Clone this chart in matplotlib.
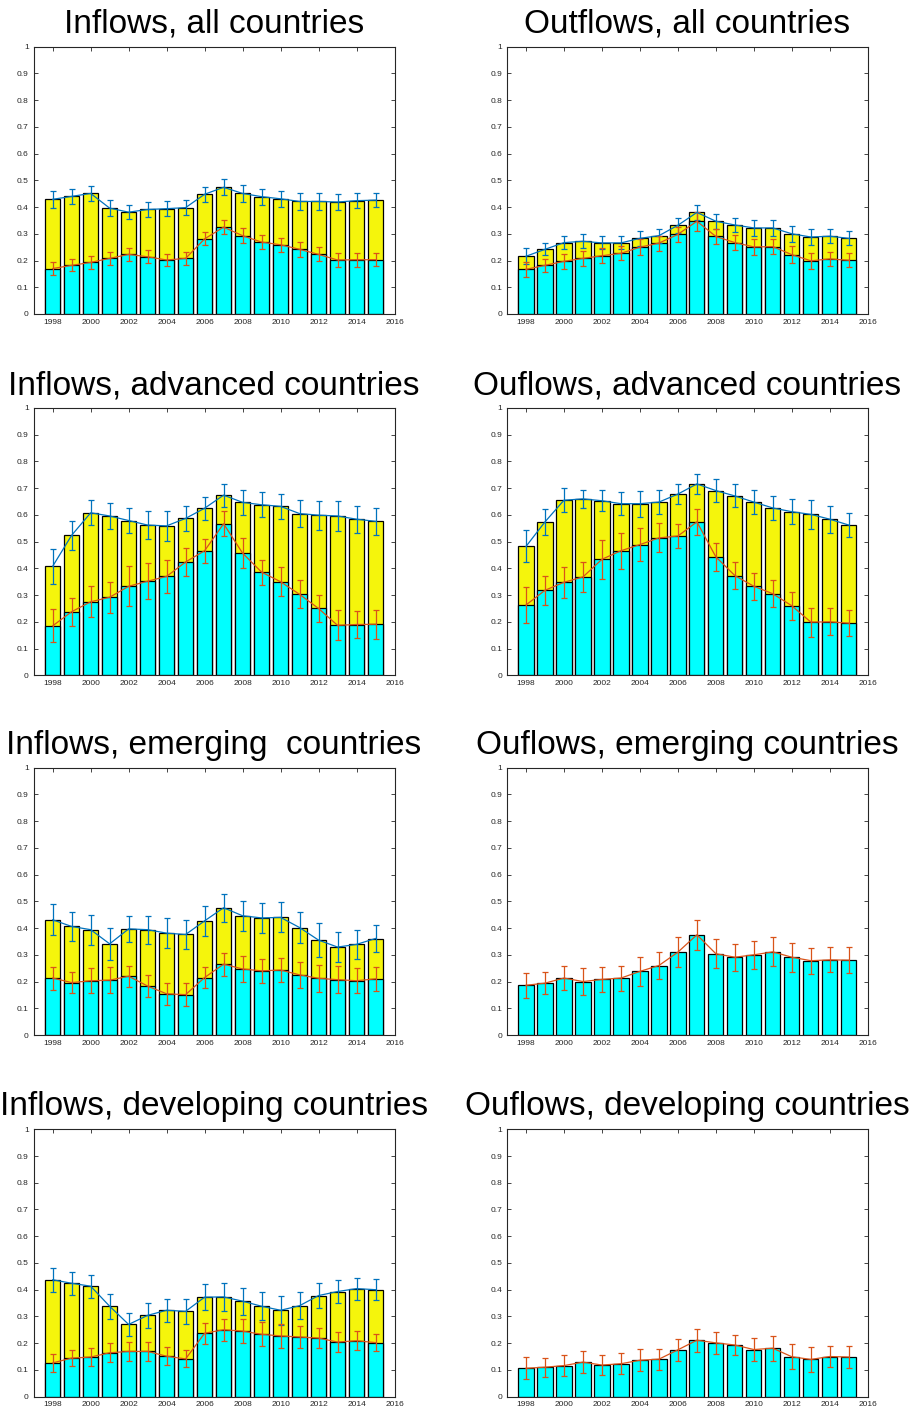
import matplotlib
matplotlib.use("Agg")
import matplotlib.pyplot as plt
import numpy as np

plt.rcParams['font.family'] = ['Liberation Sans', 'DejaVu Sans']

years = list(range(1998, 2016))

titles = [
    "Inflows, all countries", "Outflows, all countries",
    "Inflows, advanced countries", "Ouflows, advanced countries",
    "Inflows, emerging  countries", "Ouflows, emerging countries",
    "Inflows, developing countries", "Ouflows, developing countries",
]

# --- Inflows, all countries ---
in_all_total = [0.429, 0.440, 0.451, 0.396, 0.381, 0.391, 0.394, 0.398, 0.448,
                0.474, 0.451, 0.439, 0.431, 0.421, 0.421, 0.419, 0.424, 0.426]
in_all_total_err = [0.031, 0.029, 0.028, 0.029, 0.025, 0.029, 0.029, 0.029, 0.028,
                    0.030, 0.031, 0.030, 0.029, 0.031, 0.031, 0.030, 0.029, 0.027]
in_all_part = [0.170, 0.182, 0.193, 0.208, 0.223, 0.214, 0.202, 0.208, 0.281,
               0.325, 0.293, 0.269, 0.259, 0.242, 0.223, 0.202, 0.203, 0.203]
in_all_part_err = [0.024, 0.022, 0.024, 0.025, 0.024, 0.025, 0.024, 0.023, 0.024,
                   0.027, 0.027, 0.027, 0.027, 0.028, 0.026, 0.026, 0.026, 0.024]

# --- Outflows, all countries ---
out_all_total = [0.216, 0.242, 0.267, 0.272, 0.266, 0.266, 0.283, 0.293, 0.332,
                 0.380, 0.347, 0.333, 0.322, 0.322, 0.300, 0.288, 0.291, 0.283]
out_all_total_err = [0.030, 0.023, 0.024, 0.026, 0.024, 0.024, 0.028, 0.026, 0.028,
                     0.027, 0.028, 0.028, 0.029, 0.029, 0.029, 0.029, 0.026, 0.026]
out_all_part = [0.167, 0.182, 0.197, 0.208, 0.218, 0.227, 0.250, 0.265, 0.298,
                0.347, 0.290, 0.267, 0.251, 0.252, 0.222, 0.199, 0.206, 0.201]
out_all_part_err = [0.028, 0.024, 0.028, 0.027, 0.029, 0.026, 0.029, 0.028, 0.028,
                    0.035, 0.029, 0.027, 0.029, 0.029, 0.031, 0.030, 0.027, 0.026]

# --- Inflows, advanced countries ---
in_adv_total = [0.408, 0.524, 0.608, 0.596, 0.579, 0.562, 0.559, 0.587, 0.625,
                0.674, 0.647, 0.638, 0.632, 0.605, 0.599, 0.596, 0.584, 0.576]
in_adv_total_err = [0.065, 0.055, 0.046, 0.047, 0.048, 0.051, 0.056, 0.048, 0.043,
                    0.043, 0.047, 0.046, 0.047, 0.050, 0.054, 0.055, 0.051, 0.050]
in_adv_part = [0.185, 0.238, 0.275, 0.292, 0.333, 0.352, 0.370, 0.424, 0.466,
               0.567, 0.457, 0.386, 0.350, 0.303, 0.250, 0.187, 0.190, 0.191]
in_adv_part_err = [0.062, 0.052, 0.058, 0.058, 0.075, 0.067, 0.061, 0.051, 0.045,
                   0.047, 0.057, 0.047, 0.054, 0.052, 0.050, 0.056, 0.051, 0.054]

# --- Outflows, advanced countries ---
out_adv_total = [0.482, 0.574, 0.655, 0.660, 0.653, 0.642, 0.642, 0.648, 0.678,
                 0.716, 0.691, 0.671, 0.648, 0.626, 0.612, 0.602, 0.584, 0.562]
out_adv_total_err = [0.060, 0.048, 0.044, 0.034, 0.039, 0.044, 0.048, 0.045, 0.036,
                     0.036, 0.044, 0.043, 0.045, 0.046, 0.046, 0.053, 0.050, 0.046]
out_adv_part = [0.263, 0.318, 0.348, 0.368, 0.434, 0.466, 0.489, 0.514, 0.521,
                0.574, 0.443, 0.373, 0.333, 0.305, 0.260, 0.199, 0.200, 0.195]
out_adv_part_err = [0.066, 0.054, 0.059, 0.056, 0.074, 0.067, 0.061, 0.054, 0.046,
                    0.049, 0.051, 0.050, 0.051, 0.050, 0.052, 0.054, 0.050, 0.049]

# --- Inflows, emerging countries ---
in_em_total = [0.431, 0.406, 0.394, 0.341, 0.397, 0.394, 0.381, 0.376, 0.427,
               0.476, 0.446, 0.438, 0.440, 0.402, 0.355, 0.329, 0.339, 0.361]
in_em_total_err = [0.058, 0.054, 0.056, 0.059, 0.049, 0.052, 0.055, 0.055, 0.055,
                   0.052, 0.056, 0.055, 0.056, 0.058, 0.064, 0.057, 0.054, 0.051]
in_em_part = [0.213, 0.196, 0.203, 0.205, 0.220, 0.183, 0.154, 0.151, 0.215,
              0.265, 0.247, 0.240, 0.243, 0.225, 0.212, 0.207, 0.203, 0.210]
in_em_part_err = [0.043, 0.040, 0.046, 0.049, 0.040, 0.042, 0.040, 0.042, 0.041,
                  0.043, 0.047, 0.045, 0.046, 0.049, 0.050, 0.050, 0.046, 0.046]

# --- Outflows, emerging countries (single component) ---
out_em_part = [0.186, 0.194, 0.213, 0.200, 0.208, 0.213, 0.238, 0.260, 0.310,
               0.375, 0.304, 0.291, 0.300, 0.311, 0.291, 0.278, 0.281, 0.280]
out_em_part_err = [0.046, 0.040, 0.046, 0.050, 0.046, 0.047, 0.053, 0.052, 0.057,
                   0.057, 0.055, 0.051, 0.052, 0.054, 0.054, 0.049, 0.047, 0.048]

# --- Inflows, developing countries ---
in_dev_total = [0.437, 0.424, 0.413, 0.338, 0.270, 0.304, 0.323, 0.319, 0.372,
                0.373, 0.357, 0.338, 0.323, 0.340, 0.378, 0.393, 0.404, 0.400]
in_dev_total_err = [0.045, 0.043, 0.043, 0.046, 0.043, 0.047, 0.044, 0.046, 0.048,
                    0.052, 0.051, 0.052, 0.055, 0.051, 0.046, 0.044, 0.041, 0.039]
in_dev_part = [0.126, 0.144, 0.148, 0.164, 0.169, 0.169, 0.151, 0.141, 0.237,
               0.250, 0.245, 0.233, 0.227, 0.223, 0.219, 0.204, 0.209, 0.202]
in_dev_part_err = [0.033, 0.029, 0.033, 0.036, 0.037, 0.037, 0.034, 0.032, 0.039,
                   0.041, 0.044, 0.045, 0.046, 0.041, 0.037, 0.038, 0.035, 0.031]

# --- Outflows, developing countries (single component) ---
out_dev_part = [0.106, 0.110, 0.116, 0.129, 0.118, 0.123, 0.136, 0.140, 0.175,
                0.211, 0.201, 0.193, 0.176, 0.181, 0.149, 0.139, 0.150, 0.148]
out_dev_part_err = [0.041, 0.036, 0.040, 0.040, 0.039, 0.040, 0.041, 0.039, 0.040,
                    0.043, 0.042, 0.036, 0.043, 0.046, 0.047, 0.047, 0.041, 0.041]

panels = [
    (in_all_total, in_all_total_err, in_all_part, in_all_part_err),
    (out_all_total, out_all_total_err, out_all_part, out_all_part_err),
    (in_adv_total, in_adv_total_err, in_adv_part, in_adv_part_err),
    (out_adv_total, out_adv_total_err, out_adv_part, out_adv_part_err),
    (in_em_total, in_em_total_err, in_em_part, in_em_part_err),
    (None, None, out_em_part, out_em_part_err),
    (in_dev_total, in_dev_total_err, in_dev_part, in_dev_part_err),
    (None, None, out_dev_part, out_dev_part_err),
]

YELLOW = '#F5F50C'
CYAN = '#00FFFF'
BLUE = '#0072BD'
ORANGE = '#D95319'
AXC = '#262626'

W, H = 914, 1411
fig = plt.figure(figsize=(W / 100, H / 100), dpi=100)

col_left = [33.7, 507.0]
col_w = 360.8
row_top = [46.7, 408.0, 767.7, 1129.3]
row_h = 267.3

for i, (tot, tot_err, part, part_err) in enumerate(panels):
    r, c = divmod(i, 2)
    left = col_left[c] / W
    bottom = 1 - (row_top[r] + row_h) / H
    ax = fig.add_axes([left, bottom, col_w / W, row_h / H])
    x = np.array(years)
    if tot is not None:
        ax.bar(x, tot, width=0.8, color=YELLOW, edgecolor='black', linewidth=0.9, zorder=2)
    ax.bar(x, part, width=0.8, color=CYAN, edgecolor='black', linewidth=0.9, zorder=2)
    if tot is not None:
        ax.errorbar(x, tot, yerr=tot_err, color=BLUE, lw=0.9, elinewidth=0.9,
                    capsize=2.2, capthick=0.9, zorder=4)
    ax.errorbar(x, part, yerr=part_err, color=ORANGE, lw=0.9, elinewidth=0.9,
                capsize=2.2, capthick=0.9, zorder=4)
    ax.set_xlim(1997, 2016)
    ax.set_ylim(0, 1)
    ax.set_xticks(range(1998, 2017, 2))
    ax.set_yticks(np.arange(0, 1.01, 0.1))
    ax.set_yticklabels(['0'] + ['%.1f' % v for v in np.arange(0.1, 0.95, 0.1)] + ['1'])
    ax.tick_params(direction='in', length=3, width=0.6, colors=AXC, labelsize=6,
                   top=True, right=True, pad=3.5)
    for s in ax.spines.values():
        s.set_color(AXC)
        s.set_linewidth(0.8)
    ax.set_title(titles[i], fontsize=24, color='black', pad=10)

fig.savefig('out.png', dpi=100)
